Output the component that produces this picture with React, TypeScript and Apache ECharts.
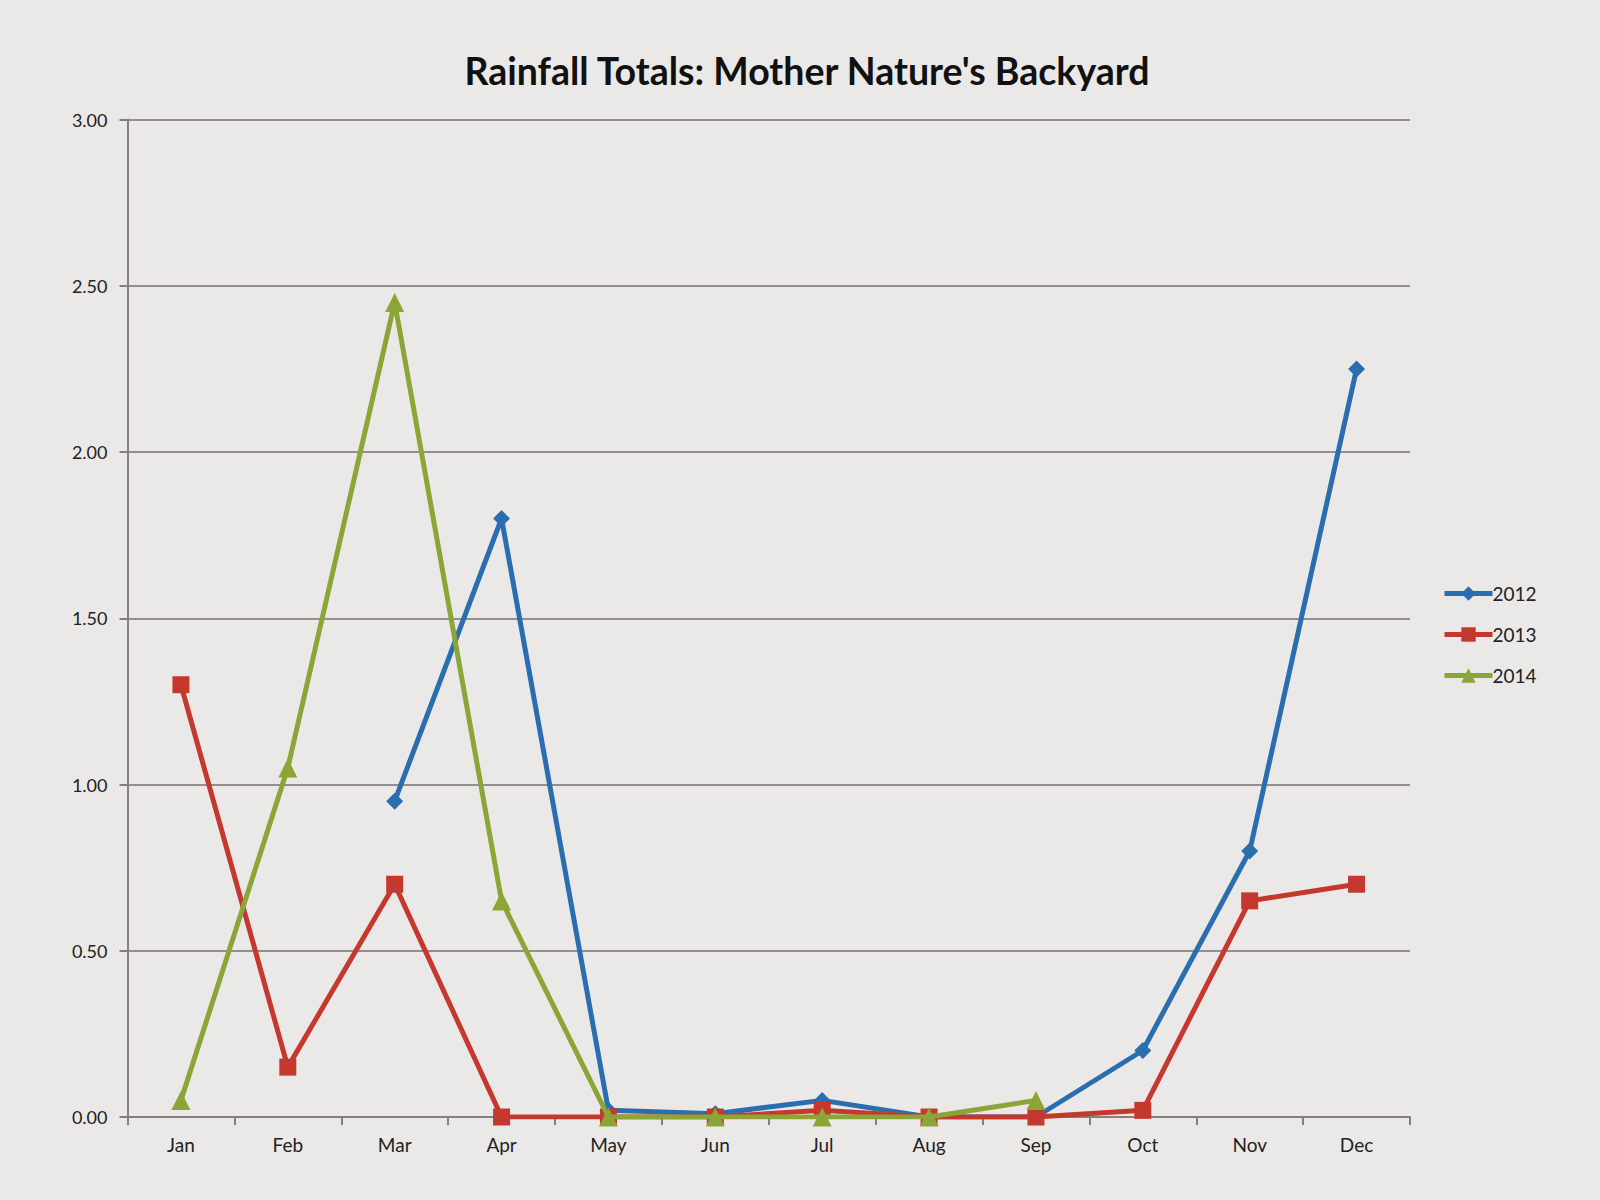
import React, { useEffect, useRef } from "react";
import * as echarts from "echarts";

const months = ["Jan", "Feb", "Mar", "Apr", "May", "Jun", "Jul", "Aug", "Sep", "Oct", "Nov", "Dec"];
const rain2012 = [null, null, 0.95, 1.8, 0.02, 0.01, 0.05, 0.0, 0.0, 0.2, 0.8, 2.25];
const rain2013 = [1.3, 0.15, 0.7, 0.0, 0.0, 0.0, 0.02, 0.0, 0.0, 0.02, 0.65, 0.7];
const rain2014 = [0.05, 1.05, 2.45, 0.65, 0.0, 0.0, 0.0, 0.0, 0.05, null, null, null];
const seriesNames = ["2012", "2013", "2014"];
const seriesColors = ["#2b6eb0", "#c4382e", "#8ca537"];
const seriesSymbols = ["diamond", "rect", "triangle"];
const seriesSymbolSizes = [17, 17, 19];

export default function App() {
  const ref = useRef<HTMLDivElement>(null);
  useEffect(() => {
    document.body.style.margin = "0";
    const chart = echarts.init(ref.current!, null, { renderer: "svg" });
    const datasets = [rain2012, rain2013, rain2014];
    chart.setOption({
      animation: false,
      backgroundColor: "#ebe9e7",
      title: {
        text: "Rainfall Totals: Mother Nature's Backyard",
        left: 802,
        textAlign: "center",
        top: 46,
        textStyle: {
          fontFamily: "Lato",
          fontWeight: "bold",
          fontSize: 37.5,
          color: "#111",
        },
      },
      legend: {
        orient: "vertical",
        left: 1437,
        top: 579,
        itemWidth: 48,
        itemHeight: 18,
        itemGap: 22,
        lineStyle: { width: 5 },
        textStyle: { fontFamily: "Lato", fontSize: 19, color: "#222", padding: [0, 0, 0, -5] },
        data: seriesNames,
      },
      grid: { left: 127.5, right: 190, top: 119.5, bottom: 83 },
      xAxis: {
        type: "category",
        data: months,
        boundaryGap: true,
        axisLine: { lineStyle: { color: "#858080", width: 2 } },
        axisTick: { show: true, interval: 0, length: 8, lineStyle: { color: "#858080", width: 2 } },
        axisLabel: { fontFamily: "Lato", fontSize: 19, color: "#222", margin: 18 },
      },
      yAxis: {
        type: "value",
        min: 0,
        max: 3,
        interval: 0.5,
        axisLine: { show: true, lineStyle: { color: "#858080", width: 2 } },
        axisTick: { show: true, length: 8, lineStyle: { color: "#858080", width: 2 } },
        axisLabel: {
          fontFamily: "Lato",
          fontSize: 18,
          color: "#222",
          margin: 20,
          formatter: (v: number) => v.toFixed(2),
        },
        splitLine: { lineStyle: { color: "#757070", width: 1.5 } },
      },
      series: datasets.map((d, i) => ({
        name: seriesNames[i],
        type: "line",
        data: d,
        symbol: seriesSymbols[i],
        symbolSize: seriesSymbolSizes[i],
        showAllSymbol: true,
        lineStyle: { color: seriesColors[i], width: 5 },
        itemStyle: { color: seriesColors[i] },
        z: 2 + i,
      })),
    });
    return () => chart.dispose();
  }, []);
  return <div ref={ref} style={{ width: 1600, height: 1200, position: "absolute", left: 0, top: 0 }} />;
}
